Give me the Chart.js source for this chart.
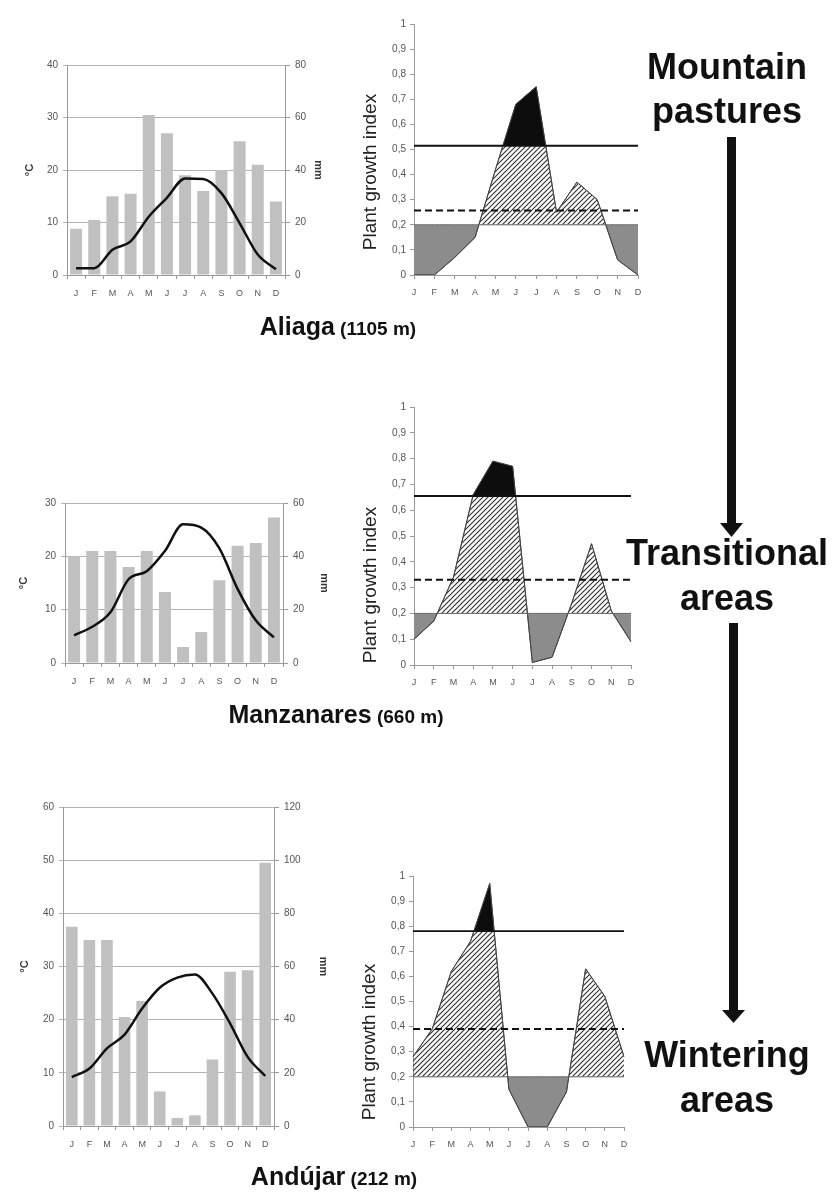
<!DOCTYPE html>
<html>
<head>
<meta charset="utf-8">
<script src="https://cdn.jsdelivr.net/npm/chart.js@4.4.1/dist/chart.umd.min.js"></script>
<style>
  html, body { margin: 0; padding: 0; background: #fff; }
  body { width: 837px; height: 1198px; position: relative; overflow: hidden; }
  canvas { position: absolute; }
  svg { position: absolute; left: 0; top: 0; }
</style>
</head>
<body>
<canvas id="climA"></canvas>
<canvas id="growA"></canvas>
<canvas id="climM"></canvas>
<canvas id="growM"></canvas>
<canvas id="climD"></canvas>
<canvas id="growD"></canvas>

<svg width="837" height="1198" font-family="'Liberation Sans', Arial, sans-serif">
  <g text-anchor="middle" font-size="36" font-weight="bold" fill="#111">
    <text x="727" y="79">Mountain</text>
    <text x="727" y="123">pastures</text>
    <text x="727" y="565">Transitional</text>
    <text x="727" y="610">areas</text>
    <text x="727" y="1067">Wintering</text>
    <text x="727" y="1112">areas</text>
  </g>
  <g fill="#111">
    <rect x="727" y="137" width="9" height="388"></rect>
    <polygon points="720,523 743,523 731.5,537"></polygon>
    <rect x="729" y="623" width="9" height="389"></rect>
    <polygon points="722,1010 745,1010 733.5,1023"></polygon>
  </g>
  <g text-anchor="middle" font-weight="bold" fill="#111">
    <text x="338" y="335"><tspan font-size="25">Aliaga</tspan><tspan font-size="19"> (1105 m)</tspan></text>
    <text x="336" y="723"><tspan font-size="25">Manzanares</tspan><tspan font-size="19"> (660 m)</tspan></text>
    <text x="334" y="1185"><tspan font-size="25">Andújar</tspan><tspan font-size="19"> (212 m)</tspan></text>
  </g>
  <g text-anchor="middle" font-size="19" fill="#222">
    <text transform="translate(376,172) rotate(-90)">Plant growth index</text>
    <text transform="translate(376,585) rotate(-90)">Plant growth index</text>
    <text transform="translate(375,1042) rotate(-90)">Plant growth index</text>
  </g>
</svg>

<script>
const months = ['J', 'F', 'M', 'A', 'M', 'J', 'J', 'A', 'S', 'O', 'N', 'D'];

// -- ** Aliaga (1105 m) ** -- \\
const aliagaTemp = [1.3, 1.3, 4.8, 6.4, 11.1, 14.7, 18.4, 18.3, 15.6, 9.9, 3.9, 1.1];
const aliagaRain = [17.6, 21, 30, 31, 61, 54, 38, 32, 40, 51, 42, 28];
const aliagaTempTicks = [0, 10, 20, 30, 40];
const aliagaRainTicks = [0, 20, 40, 60, 80];
const aliagaGrowth = [0, 0, 0.07, 0.15, 0.42, 0.68, 0.75, 0.25, 0.37, 0.3, 0.06, 0];
const aliagaUpper = 0.515;
const aliagaMean = 0.257;

// -- ** Manzanares (660 m) ** -- \\
const manzTemp = [5.2, 6.8, 9.5, 15.7, 17.2, 21, 26, 25.4, 21.5, 13.9, 8, 4.8];
const manzRain = [40, 42, 42, 36, 42, 26.6, 6, 11.6, 31, 44, 45, 54.6];
const manzTempTicks = [0, 10, 20, 30];
const manzRainTicks = [0, 20, 40, 60];
const manzGrowth = [0.1, 0.17, 0.34, 0.66, 0.79, 0.77, 0.01, 0.03, 0.24, 0.47, 0.21, 0.09];
const manzUpper = 0.655;
const manzMean = 0.33;

// -- ** Andujar (212 m) ** -- \\
const andTemp = [9.2, 10.8, 14.6, 17.2, 22.1, 26, 27.9, 28.5, 24.9, 19.3, 13, 9.4];
const andRain = [75, 70, 70, 41, 47, 13, 3, 4, 25, 58, 58.6, 99];
const andTempTicks = [0, 10, 20, 30, 40, 50, 60];
const andRainTicks = [0, 20, 40, 60, 80, 100, 120];
const andGrowth = [0.28, 0.39, 0.62, 0.74, 0.97, 0.15, 0, 0, 0.14, 0.63, 0.52, 0.28];
const andUpper = 0.78;
const andMean = 0.39;

const growthTicks = [0, 0.1, 0.2, 0.3, 0.4, 0.5, 0.6, 0.7, 0.8, 0.9, 1];
const growthBase = 0.2;

// plot areas (px)
const climateBoxes = {
  climA: { L: 67, R: 285, T: 65, B: 275, degX: 30, mmX: 318 },
  climM: { L: 65, R: 283, T: 503, B: 663, degX: 24, mmX: 324 },
  climD: { L: 63, R: 274, T: 807, B: 1126, degX: 25, mmX: 323 }
};
const growthBoxes = {
  growA: { L: 414, R: 638, T: 24, B: 275 },
  growM: { L: 414, R: 631, T: 407, B: 665 },
  growD: { L: 413, R: 624, T: 876, B: 1127 }
};

const axisGrey = '#9a9a9a';
const tickGrey = '#555';
Chart.defaults.font.family = "'Liberation Sans', Arial, sans-serif";

function placeCanvas(id, left, top, w, h) {
  const cv = document.getElementById(id);
  cv.width = w;
  cv.height = h;
  cv.style.left = left + 'px';
  cv.style.top = top + 'px';
  return cv;
}

// -- ** climate diagram ** -- \\
function climateChart(id, temp, rain, tTicks, rTicks) {
  const box = climateBoxes[id];
  const left = 0, top = box.T - 20, right = box.R + 60, bottom = box.B + 35;
  const cv = placeCanvas(id, left, top, right - left, bottom - top);
  return new Chart(cv, {
    type: 'bar',
    data: {
      labels: months,
      datasets: [
        { type: 'line', data: temp, yAxisID: 'y', borderColor: '#111', borderWidth: 2.5, pointRadius: 0, cubicInterpolationMode: 'monotone', order: 0 },
        { type: 'bar', data: rain, yAxisID: 'y1', backgroundColor: '#c0c0c0', barPercentage: 0.66, categoryPercentage: 1, order: 1 }
      ]
    },
    options: {
      responsive: false,
      animation: false,
      layout: { padding: { top: box.T - top, left: 0, right: 0, bottom: 0 } },
      plugins: { legend: { display: false }, tooltip: { enabled: false } },
      scales: {
        x: {
          grid: { drawOnChartArea: false, color: axisGrey, tickLength: 4, offset: true },
          border: { color: axisGrey },
          ticks: { color: tickGrey, font: { size: 9 }, padding: 9, maxRotation: 0, autoSkip: false },
          afterFit: s => { s.height = bottom - box.B; s.paddingLeft = 0; s.paddingRight = 0; }
        },
        y: {
          position: 'left',
          min: tTicks[0],
          max: tTicks[tTicks.length - 1],
          ticks: { stepSize: tTicks[1] - tTicks[0], color: tickGrey, font: { size: 10 }, padding: 5 },
          grid: { color: '#b4b4b4', tickLength: 4 },
          border: { color: axisGrey },
          title: { display: true, text: '°C', color: '#333', font: { size: 11, weight: 'bold' }, padding: { top: box.degX - left - 6.6, bottom: 0 } },
          afterFit: s => { s.width = box.L - left; s.paddingTop = 0; s.paddingBottom = 0; }
        },
        y1: {
          position: 'right',
          min: rTicks[0],
          max: rTicks[rTicks.length - 1],
          ticks: { stepSize: rTicks[1] - rTicks[0], color: tickGrey, font: { size: 10 }, padding: 5 },
          grid: { drawOnChartArea: false, color: axisGrey, tickLength: 5 },
          border: { color: axisGrey },
          title: { display: true, text: 'mm', color: '#333', font: { size: 11, weight: 'bold' }, padding: { top: right - box.mmX - 6.6, bottom: 0 } },
          afterFit: s => { s.width = right - box.R; s.paddingTop = 0; s.paddingBottom = 0; }
        }
      }
    }
  });
}

// diagonal hatch for the growth period
function makeHatch(ctx) {
  const tile = document.createElement('canvas');
  tile.width = 5;
  tile.height = 5;
  const g = tile.getContext('2d');
  g.strokeStyle = '#2e2e2e';
  g.lineWidth = 1.1;
  g.beginPath();
  g.moveTo(0, 5); g.lineTo(5, 0);
  g.moveTo(-1, 1); g.lineTo(1, -1);
  g.moveTo(4, 6); g.lineTo(6, 4);
  g.stroke();
  return ctx.createPattern(tile, 'repeat');
}

// -- ** plant growth index ** -- \\
function growthChart(id, values, upper, mean) {
  const box = growthBoxes[id];
  const left = 340, top = box.T - 12, right = box.R + 14, bottom = box.B + 30;
  const cv = placeCanvas(id, left, top, right - left, bottom - top);
  const hatch = makeHatch(cv.getContext('2d'));
  const flat = v => months.map(() => v);
  return new Chart(cv, {
    type: 'line',
    data: {
      labels: months,
      datasets: [
        { data: flat(upper), borderColor: '#111', borderWidth: 1.8, order: 0 },
        { data: flat(mean), borderColor: '#111', borderWidth: 2, borderDash: [7, 4], order: 0 },
        { data: flat(growthBase), borderColor: '#666', borderWidth: 1, order: 1 },
        { data: values, borderColor: '#444', borderWidth: 1, fill: { target: { value: upper }, above: '#0d0d0d', below: 'rgba(0,0,0,0)' }, order: 2 },
        { data: values, borderColor: '#555', borderWidth: 1, fill: { target: { value: growthBase }, above: hatch, below: '#8c8c8c' }, order: 3 }
      ]
    },
    options: {
      responsive: false,
      animation: false,
      elements: { point: { radius: 0 }, line: { tension: 0 } },
      layout: { padding: { top: box.T - top, right: right - box.R, left: 0, bottom: 0 } },
      plugins: { legend: { display: false }, tooltip: { enabled: false } },
      scales: {
        x: {
          offset: false,
          grid: { drawOnChartArea: false, offset: false, color: axisGrey, tickLength: 4 },
          border: { color: axisGrey },
          ticks: { color: tickGrey, font: { size: 9 }, padding: 8, maxRotation: 0, autoSkip: false },
          afterFit: s => { s.height = bottom - box.B; s.paddingLeft = 0; s.paddingRight = 0; }
        },
        y: {
          min: growthTicks[0],
          max: growthTicks[growthTicks.length - 1],
          ticks: {
            stepSize: growthTicks[1] - growthTicks[0],
            color: tickGrey,
            font: { size: 10 },
            padding: 4,
            callback: v => String(Math.round(v * 10) / 10).replace('.', ',')
          },
          grid: { drawOnChartArea: false, color: axisGrey, tickLength: 4 },
          border: { color: axisGrey },
          afterFit: s => { s.width = box.L - left; s.paddingTop = 0; s.paddingBottom = 0; }
        }
      }
    }
  });
}

climateChart('climA', aliagaTemp, aliagaRain, aliagaTempTicks, aliagaRainTicks);
climateChart('climM', manzTemp, manzRain, manzTempTicks, manzRainTicks);
climateChart('climD', andTemp, andRain, andTempTicks, andRainTicks);

growthChart('growA', aliagaGrowth, aliagaUpper, aliagaMean);
growthChart('growM', manzGrowth, manzUpper, manzMean);
growthChart('growD', andGrowth, andUpper, andMean);
</script>
</body>
</html>
